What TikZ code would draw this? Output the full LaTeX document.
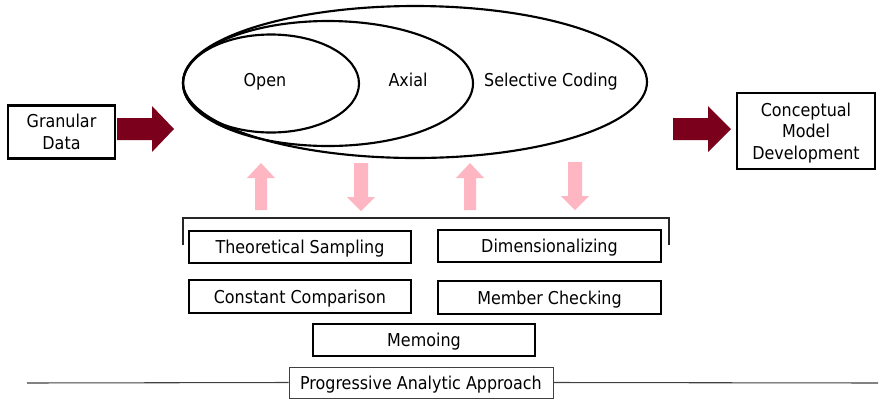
\documentclass[tikz,border=0pt]{standalone}
\usepackage{fontspec}
\setmainfont{DejaVu Sans Condensed}
\begin{document}
\begin{tikzpicture}[x=0.75pt,y=-0.75pt,
  box/.style={draw=black,line width=1.6pt,minimum width=#1,inner sep=0pt,align=center,text depth=0pt,font=\fontsize{13.3}{16.2}\selectfont},
  oval/.style={draw=black,line width=1.6pt},
  lbl/.style={text depth=0pt,font=\fontsize{13.3}{16.2}\selectfont},
  bigarrow/.style={fill=arrowred},
  pinkarrow/.style={fill=pinkc}]
\definecolor{arrowred}{RGB}{123,0,28}
\definecolor{pinkc}{RGB}{255,182,195}
\useasboundingbox (0,0) rectangle (883,401);
\fill[white] (0,0) rectangle (883,401);
% ellipses
\draw[oval] (415,82) ellipse [x radius=232, y radius=76];
\draw[oval] (328,83.5) ellipse [x radius=145, y radius=62.5];
\draw[oval] (271,83.5) ellipse [x radius=88, y radius=49];
\node[lbl] (open) at (265,80) {Open};
\node[lbl] (axial) at (408,80) {Axial};
\node[lbl] (sel) at (551,80) {Selective Coding};
% side boxes
\node[box=80.25pt,minimum height=39.75pt] (gran) at (61.5,132) {Granular\\Data};
\node[box=103.5pt,minimum height=57pt] (concept) at (806,131) {Conceptual\\Model\\Development};
% big arrows
\fill[bigarrow] (117,118) -- (152,118) -- (152,106) -- (174,129) -- (152,152) -- (152,140) -- (117,140) -- cycle;
\fill[bigarrow] (673,118) -- (708,118) -- (708,106) -- (731,129) -- (708,152) -- (708,140) -- (673,140) -- cycle;
% pink arrows
\fill[pinkarrow] (255,210) -- (255,178) -- (247,178) -- (261,163) -- (275,178) -- (267,178) -- (267,210) -- cycle;
\fill[pinkarrow] (354,163) -- (368,163) -- (368,197) -- (375,197) -- (361,211) -- (347,197) -- (354,197) -- cycle;
\fill[pinkarrow] (464,210) -- (464,178) -- (456,178) -- (470,163) -- (484,178) -- (476,178) -- (476,210) -- cycle;
\fill[pinkarrow] (568,162) -- (582,162) -- (582,196) -- (589,196) -- (575,210) -- (561,196) -- (568,196) -- cycle;
% bracket
\coordinate (bl) at (183,245);
\coordinate (br) at (669,245);
\draw[line width=0.9pt,black!85] (bl) -- (183,218) -- (669,218) -- (br);
% method boxes
\node[box=166.5pt,minimum height=24pt] (ts) at (300,247) {Theoretical Sampling};
\node[box=167.25pt,minimum height=24pt] (dim) at (549.5,246) {Dimensionalizing};
\node[box=166.5pt,minimum height=24.75pt] (cc) at (300,296.5) {Constant Comparison};
\node[box=167.25pt,minimum height=24.75pt] (mc) at (549.5,297.5) {Member Checking};
\node[box=166.5pt,minimum height=24pt] (memo) at (424,340) {Memoing};
% bottom line and label
\coordinate (ll) at (27,383);
\coordinate (lr) at (878,383);
\node[draw=black!75,line width=0.6pt,fill=white,minimum width=198pt,minimum height=23.25pt,inner sep=0pt,lbl] (paa) at (421,382.5) {Progressive Analytic Approach};
\draw[line width=0.8pt,black!75] (ll) -- (paa.west);
\draw[line width=0.8pt,black!75] (paa.east) -- (lr);
\end{tikzpicture}
\end{document}
